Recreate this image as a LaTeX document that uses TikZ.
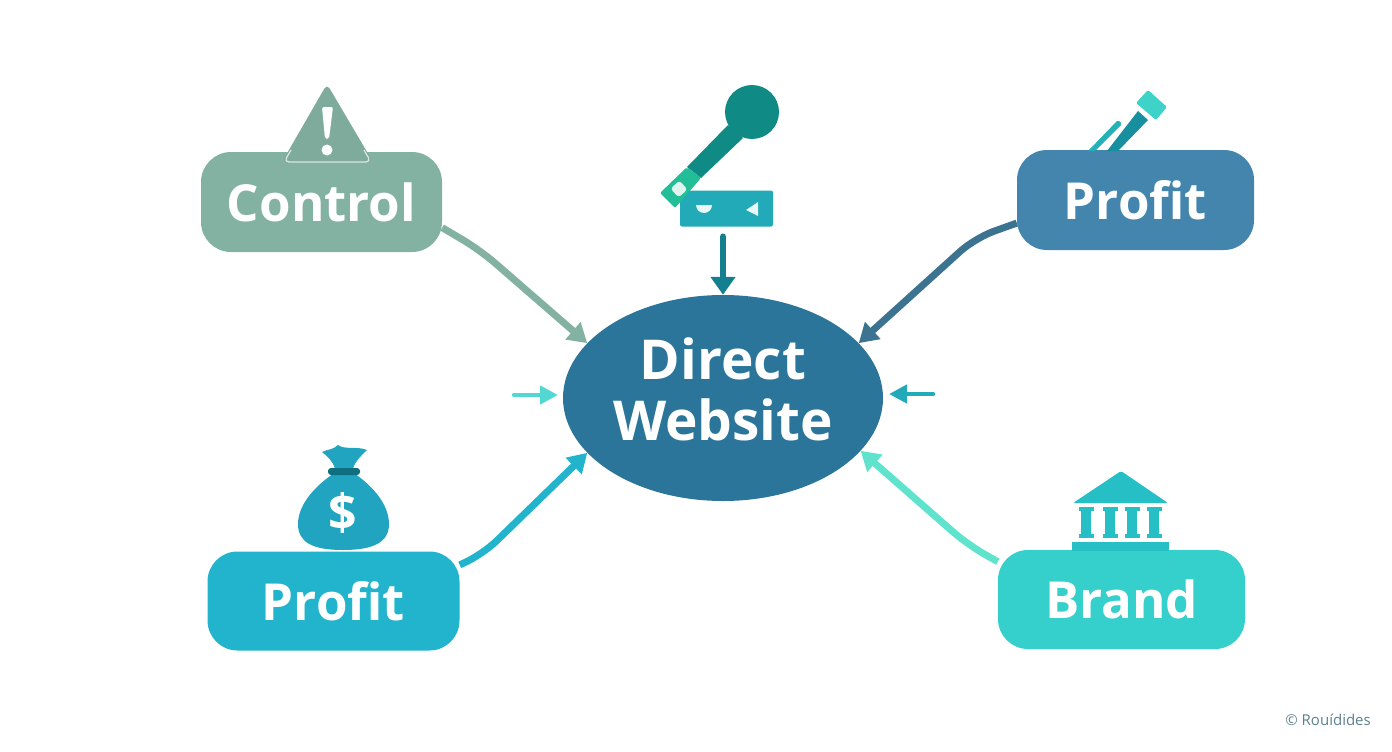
\documentclass[tikz,border=0pt]{standalone}
\usepackage{fontspec}
\setmainfont{Open Sans}
\usetikzlibrary{arrows.meta,shapes.geometric}
\definecolor{cControl}{HTML}{84B2A2}
\definecolor{cProfitA}{HTML}{4385AD}
\definecolor{cProfitB}{HTML}{21B4CC}
\definecolor{cBrand}{HTML}{35D0CB}
\definecolor{cHub}{HTML}{2A7599}
\definecolor{cMic}{HTML}{0F8A84}
\definecolor{cMicG}{HTML}{21BE97}
\definecolor{cMicBox}{HTML}{22AAB8}
\definecolor{cTop}{HTML}{14808F}
\definecolor{cPen}{HTML}{178F9E}
\definecolor{cPenTip}{HTML}{3DD3C8}
\definecolor{cBag}{HTML}{21A4C0}
\definecolor{cBand}{HTML}{0F6E80}
\definecolor{cBank}{HTML}{26BFC6}
\definecolor{cArrowBR}{HTML}{5FE3CC}
\definecolor{cArrowTR}{HTML}{3C7391}
\definecolor{cMark}{HTML}{5C8090}
\tikzset{
  x=1pt,y=-1pt,
  boxnode/.style={draw=none,rectangle,rounded corners=30pt,inner sep=0pt,text=white,font=\fontsize{51}{51}\selectfont\bfseries},
  conn/.style={line width=7pt,rounded corners=20pt,-{Triangle[width=22pt,length=19pt]}},
  mini/.style={line width=4.5pt,line cap=round,-{Triangle[width=18pt,length=18pt]}},
}
\begin{document}
\begin{tikzpicture}
\useasboundingbox (0,0) rectangle (1392,752);
% nodes
\node[boxnode,fill=cControl,minimum width=241pt,minimum height=100pt] (control) at (321.5,202) {Control};
\node[boxnode,fill=cProfitA,minimum width=237pt,minimum height=100pt] (profita) at (1135.5,200) {Profit};
\node[boxnode,fill=cProfitB,minimum width=252pt,minimum height=99pt] (profitb) at (333.5,601) {Profit};
\node[boxnode,fill=cBrand,minimum width=247pt,minimum height=99pt] (brand) at (1121.5,599.5) {Brand};
\node[ellipse,fill=cHub,minimum width=320pt,minimum height=206pt,inner sep=0pt,text=white,font=\fontsize{55}{61}\selectfont\bfseries] (hub) at (723,398) {\raisebox{-2.5pt}{\begin{tabular}{@{}c@{}}Direct\\Website\end{tabular}}};
\node[rectangle,rounded corners=2pt,fill=cMicBox,minimum width=93pt,minimum height=36pt,inner sep=0pt] (micbox) at (726.5,208.5) {};
% connectors
\coordinate (b1) at (480,250);
\coordinate (b2) at (975,238);
\coordinate (b3) at (482,555);
\coordinate (b4) at (968,545);
\draw[conn,draw=cControl] (control.-12) -- (b1) -- (hub.158);
\draw[conn,draw=cArrowTR] (profita.191.6) -- (b2) -- (hub.22.4);
\draw[conn,draw=cProfitB] (profitb.16) -- (b3) -- (hub.202.6);
\draw[conn,draw=cArrowBR] (brand.163) -- (b4) -- (hub.-21);
\draw[line width=6.5pt,line cap=round,draw=cTop,-{Triangle[width=24pt,length=18pt]},shorten <=10pt] (micbox.south -| hub.north) -- (hub.north);
\coordinate (la) at (514,395);
\coordinate (lb) at (558,395);
\coordinate (ra) at (933,394);
\coordinate (rb) at (889,394);
\draw[mini,draw=cBrand!85!white] (la) -- (lb);
\draw[mini,draw=cMicBox] (ra) -- (rb);
% warning icon
\fill[cControl!96!black,rounded corners=5pt] (327,84) -- (373,162) -- (282,162) -- cycle;
\draw[white!70!cControl,line width=1.2pt,rounded corners=5pt] (291,150) -- (284,162) -- (371,162) -- (364,150);
\fill[white,rounded corners=2pt] (322,107) -- (333,107) -- (329,139) -- (325,139) -- cycle;
\fill[white] (327,150) circle (5.5);
% microphone
\fill[cMic] (728,125) -- (743,138) -- (701,178) -- (687,167) -- cycle;
\fill[cMic] (752,112) circle (27);
\fill[cMicG,rounded corners=2pt] (687,167) -- (701,178) -- (675,208) -- (660,193) -- cycle;
\fill[white!85!cMicG,rounded corners=3pt,rotate around={43:(679,189)}] (673,183) rectangle (685,195);
\fill[white!90!cMicBox] (696,205) arc[start angle=180,end angle=0,radius=8] -- cycle;
\fill[white!90!cMicBox] (746,210) -- (758,202) -- (758,216) -- cycle;
% pen
\fill[cPen] (1138,111) -- (1148,120) -- (1118,151) -- (1107,151) -- cycle;
\fill[cMicBox!85!cPenTip,rounded corners=1.5pt] (1118,120) -- (1122,124) -- (1095,151) -- (1088,151) -- cycle;
\fill[cPenTip,rounded corners=1.5pt] (1148,90) -- (1167,107) -- (1156,120) -- (1136,103) -- cycle;
% money bag
\fill[cBag] (333,474) .. controls (318,484) and (298,503) .. (298,524) .. controls (298,542) and (312,550) .. (343,550) .. controls (374,550) and (389,542) .. (389,524) .. controls (389,503) and (370,484) .. (355,474) -- cycle;
\fill[cBag] (335,469) .. controls (333,461) and (327,456) .. (322,452) .. controls (328,449) and (333,450) .. (338,445) .. controls (344,450) and (358,446) .. (367,450) .. controls (361,456) and (355,461) .. (353,469) -- cycle;
\fill[cBand,rounded corners=3pt] (328,468) rectangle (360,475);
\node[text=white,font=\fontsize{50}{50}\selectfont\bfseries,inner sep=0pt] (dollar) at (343,513) {\$};
% bank
\fill[cBank,rounded corners=1.5pt] (1121,471) -- (1168,503) -- (1073,503) -- cycle;
\foreach \cx in {1086,1110,1132,1154}{
  \fill[cBank] (\cx-7.5,507) rectangle (\cx+7.5,511);
  \fill[cBank] (\cx-5,511) rectangle (\cx+5,534);
  \fill[cBank] (\cx-7.5,534) rectangle (\cx+7.5,538);
}
\fill[cBank] (1072,542) rectangle (1169,551);
% watermark
\node[text=cMark,font=\fontsize{15}{15}\selectfont,inner sep=0pt,anchor=east] (mark) at (1371,720) {© Rouídides};
\end{tikzpicture}
\end{document}
